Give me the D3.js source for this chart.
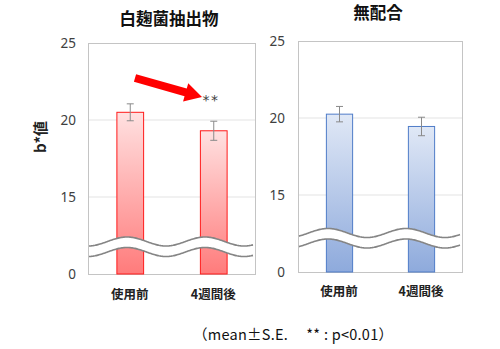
<!DOCTYPE html>
<html><head><meta charset="utf-8">
<script src="https://cdn.jsdelivr.net/npm/d3@7"></script>
<style>body{margin:0;background:#fff;} svg{display:block;font-family:"Noto Sans CJK JP","Noto Sans",sans-serif;}</style>
</head><body>
<svg id="c" width="500" height="349"></svg>
<script>
const categories = ["使用前", "4週間後"];
const titles = ["白麹菌抽出物", "無配合"];
const meansA = [20.5, 19.3];
const seA = [0.55, 0.62];
const meansB = [20.25, 19.45];
const seB = [0.5, 0.6];
const tickValues = [10, 15, 20, 25];
const tickLabels = ["0", "15", "20", "25"];
const yLabel = "b*値";
const footnote = "（mean±S.E.　 ** : p<0.01）";
const sigLabel = "**";

const svg = d3.select("#c");
const defs = svg.append("defs");
function grad(id, c1, c2) {
  const g = defs.append("linearGradient").attr("id", id).attr("x1", 0).attr("y1", 0).attr("x2", 0).attr("y2", 1);
  g.append("stop").attr("offset", "0%").attr("stop-color", c1);
  g.append("stop").attr("offset", "100%").attr("stop-color", c2);
}
grad("gRed", "#ffe1e1", "#ff7b7b");
grad("gBlue", "#e0e8f6", "#8eaadc");

const panels = [
  {title: titles[0], means: meansA, se: seA, x0: 88, x1: 255, yTop: 43, yBot: 274, fill: "url(#gRed)", stroke: "#ff1a1a", tx: 169, ty: 25, labX: 76, labY: 299, wave: {peak: 127, mid: 241.5}},
  {title: titles[1], means: meansB, se: seB, x0: 298, x1: 462, yTop: 41, yBot: 272, fill: "url(#gBlue)", stroke: "#4f7cc8", tx: 378, ty: 19, labX: 285, labY: 296, wave: {peak: 328, mid: 233}}
];

panels.forEach((p, pi) => {
  const g = svg.append("g");
  const y = d3.scaleLinear().domain([10, 25]).range([p.yBot, p.yTop]);
  const x = d3.scaleBand().domain(categories).range([p.x0, p.x1]).paddingInner(0.68).paddingOuter(0.34);

  g.selectAll(".grid").data([15, 20]).enter().append("line")
    .attr("x1", p.x0).attr("x2", p.x1).attr("y1", d => y(d)).attr("y2", d => y(d))
    .attr("stroke", "#e3e3e3").attr("stroke-width", 1);
  g.append("rect").attr("x", p.x0 + 0.5).attr("y", p.yTop + 0.5).attr("width", p.x1 - p.x0).attr("height", p.yBot - p.yTop)
    .attr("fill", "none").attr("stroke", "#c4c4c4").attr("stroke-width", 1);

  const ax = d3.axisLeft(y).tickValues(tickValues).tickSize(0).tickPadding(0)
    .tickFormat((d, i) => tickLabels[i]);
  const axg = g.append("g").attr("transform", `translate(${p.labX},0)`).call(ax);
  axg.select(".domain").remove();
  axg.selectAll("text").attr("font-size", 13.5).attr("fill", "#404040")
    .attr("font-family", "'Noto Sans','DejaVu Sans',sans-serif").attr("dy", "0.35em");

  g.selectAll(".bar").data(p.means).enter().append("rect")
    .attr("x", (d, i) => x(categories[i]) + 0.5)
    .attr("y", d => y(d))
    .attr("width", x.bandwidth())
    .attr("height", d => y(10) - y(d))
    .attr("fill", p.fill).attr("stroke", p.stroke).attr("stroke-width", 1);

  const eg = g.selectAll(".err").data(p.means).enter().append("g").attr("stroke", "#8a8a8a").attr("stroke-width", 1);
  eg.append("line").attr("x1", (d, i) => x(categories[i]) + x.bandwidth() / 2 + 0.5).attr("x2", (d, i) => x(categories[i]) + x.bandwidth() / 2 + 0.5)
    .attr("y1", (d, i) => y(d + p.se[i])).attr("y2", (d, i) => y(d - p.se[i]));
  [1, -1].forEach(s => {
    eg.append("line").attr("x1", (d, i) => x(categories[i]) + x.bandwidth() / 2 - 3).attr("x2", (d, i) => x(categories[i]) + x.bandwidth() / 2 + 4)
      .attr("y1", (d, i) => y(d + s * p.se[i])).attr("y2", (d, i) => y(d + s * p.se[i]));
  });

  const wx0 = p.x0 + 1, wx1 = p.x1 - 2, period = 78, amp = 4.5, gap = 10.5;
  const pts = d3.range(wx0, wx1 + 0.1, 1).map(xx => [xx, p.wave.mid - amp * Math.cos(2 * Math.PI * (xx - p.wave.peak) / period)]);
  const area = d3.area().x(d => d[0]).y0(d => d[1]).y1(d => d[1] + gap);
  g.append("path").attr("d", area(pts)).attr("fill", "#fff");
  const line = d3.line();
  g.append("path").attr("d", line(pts)).attr("fill", "none").attr("stroke", "#858585").attr("stroke-width", 1.6);
  g.append("path").attr("d", line(pts.map(d => [d[0], d[1] + gap]))).attr("fill", "none").attr("stroke", "#858585").attr("stroke-width", 1.6);

  g.append("text").attr("x", p.tx).attr("y", p.ty).attr("text-anchor", "middle")
    .attr("font-size", 16.5).attr("font-weight", "bold").attr("fill", "#111").text(p.title);

  g.selectAll(".xl").data(categories).enter().append("text")
    .attr("x", d => x(d) + x.bandwidth() / 2).attr("y", p.labY).attr("text-anchor", "middle")
    .attr("font-size", 12.5).attr("font-weight", "bold").attr("fill", "#222").text(d => d);

  if (pi === 0) {
    g.append("text").attr("transform", "translate(46,137) rotate(-90)").attr("text-anchor", "middle")
      .attr("font-size", 15).attr("font-weight", "bold").attr("fill", "#222").text(yLabel);
    const tail = [135, 78], tip = [202, 97];
    const dx = tip[0] - tail[0], dy = tip[1] - tail[1];
    const L = Math.hypot(dx, dy), ang = Math.atan2(dy, dx) * 180 / Math.PI;
    const hl = 17, hw = 9.5, sw = 4;
    const poly = [[0, -sw], [L - hl, -sw], [L - hl, -hw], [L, 0], [L - hl, hw], [L - hl, sw], [0, sw]];
    g.append("polygon").attr("points", poly.map(q => q.join(",")).join(" "))
      .attr("transform", `translate(${tail[0]},${tail[1]}) rotate(${ang})`).attr("fill", "#ff0000");
    g.append("text").attr("x", 211).attr("y", 105).attr("text-anchor", "middle")
      .attr("font-size", 14).attr("letter-spacing", 1.5).attr("fill", "#404040")
      .attr("font-family", "'DejaVu Sans',sans-serif").text(sigLabel);
  }
});

svg.append("text").attr("x", 193).attr("y", 340).attr("textLength", 200).attr("lengthAdjust", "spacing")
  .attr("font-size", 14.5).attr("fill", "#111").text(footnote);
</script>
</body></html>
